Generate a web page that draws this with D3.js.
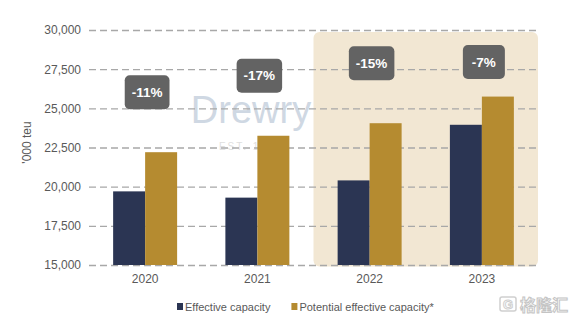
<!DOCTYPE html>
<html>
<head>
<meta charset="utf-8">
<script src="https://cdn.jsdelivr.net/npm/d3@7"></script>
<style>
  body { margin: 0; background: #fff; }
  svg { display: block; font-family: "Liberation Sans", Arial, sans-serif; }
</style>
</head>
<body>
<script>
 // data
 const years = ['2020', '2021', '2022', '2023'];
 const effective = [19700, 19300, 20400, 23950];
 const potential = [22200, 23250, 24050, 25750];
 const gapLabels = ['-11%', '-17%', '-15%', '-7%'];
 const highlightYears = ['2022', '2023'];
 const seriesNames = ['Effective capacity', 'Potential effective capacity*'];
 const yTicks = [15000, 17500, 20000, 22500, 25000, 27500, 30000];

 // constants
 const width = 573;
 const height = 327;
 const margin = { top: 30, bottom: 62, left: 89, right: 35 };
 const colors = ['#2b3553', '#b58b30'];
 const textColor = '#595959';

 const svg = d3.select('body').append('svg')
       .attr('width', width).attr('height', height);

 const rows = years.map((y, i) => ({ year: y, values: [effective[i], potential[i]], label: gapLabels[i] }));

 // scales
 const x0 = d3.scaleBand().domain(years)
       .range([margin.left, width - margin.right])
       .paddingInner(0.43).paddingOuter(0.215);
 const x1 = d3.scaleBand().domain([0, 1]).range([0, x0.bandwidth()]);
 const yScale = d3.scaleLinear().domain([15000, 30000])
       .range([height - margin.bottom, margin.top]);

 // highlighted forecast panel
 const half = x0.step() * x0.paddingInner() / 2;
 const hx0 = x0(highlightYears[0]) - half;
 const hx1 = x0(highlightYears[highlightYears.length - 1]) + x0.bandwidth() + half;
 svg.append('rect')
    .attr('x', hx0).attr('y', yScale(30000) + 2)
    .attr('width', hx1 - hx0).attr('height', yScale(15000) - yScale(30000) - 0.5)
    .attr('rx', 6).attr('fill', '#f2e7d3');

 // Drewry watermark
 svg.append('text').attr('x', 251).attr('y', 123)
    .attr('text-anchor', 'middle').attr('font-size', 38)
    .attr('fill', '#cfd8e3').text('Drewry');
 svg.append('text').attr('x', 251).attr('y', 150)
    .attr('text-anchor', 'middle').attr('font-size', 10)
    .attr('letter-spacing', 2).attr('fill', '#dedede').text('EST. 1870');

 // gridlines + y tick labels
 const yAxis = svg.append('g').attr('transform', `translate(${margin.left},0)`)
       .call(d3.axisLeft(yScale).tickValues(yTicks)
             .tickFormat(d3.format(','))
             .tickSize(-(width - margin.right - margin.left)).tickPadding(8));
 yAxis.select('.domain').remove();
 yAxis.selectAll('.tick line')
      .attr('stroke', '#a8a8a8').attr('stroke-width', 1.3).attr('stroke-dasharray', '7,4');
 yAxis.selectAll('.tick text')
      .attr('fill', textColor).attr('font-size', 12).attr('font-family', 'Liberation Sans, Arial');

 // axis title
 svg.append('text')
    .attr('transform', `translate(31, ${(yScale(20000) + yScale(25000)) / 2 - 5}) rotate(-90)`)
    .attr('text-anchor', 'middle').attr('font-size', 12).attr('fill', textColor)
    .text("'000 teu");

 // bars
 const groups = svg.append('g').selectAll('g').data(rows).enter().append('g')
       .attr('transform', (d) => `translate(${x0(d.year)},0)`);
 groups.selectAll('rect').data((d) => d.values).enter().append('rect')
       .attr('x', (d, i) => x1(i)).attr('width', x1.bandwidth())
       .attr('y', (d) => yScale(d))
       .attr('height', (d) => yScale(15000) - yScale(d))
       .attr('fill', (d, i) => colors[i]);

 // x labels
 const xAxis = svg.append('g').attr('transform', `translate(0, ${height - margin.bottom})`)
       .call(d3.axisBottom(x0).tickSize(0).tickPadding(9));
 xAxis.select('.domain').remove();
 xAxis.selectAll('text').attr('fill', textColor).attr('font-size', 12)
      .attr('font-family', 'Liberation Sans, Arial');

 // gap labels
 const boxTopMin = yScale(30000) + 15;
 groups.each(function(d) {
    const g = d3.select(this);
    const cx = x0.bandwidth() / 2 + 2;
    let bottom = yScale(d.values[1]) - 43;
    let top = Math.max(bottom - 34, boxTopMin);
    const rect = g.append('rect').attr('y', top).attr('height', 34)
          .attr('rx', 5).attr('fill', '#636363');
    const t = g.append('text').attr('x', cx).attr('y', top + 17)
          .attr('text-anchor', 'middle').attr('dominant-baseline', 'central')
          .attr('font-size', 13.5).attr('font-weight', 'bold').attr('fill', '#fff')
          .text(d.label);
    const w = Math.max(t.node().getComputedTextLength() + 14, 42);
    rect.attr('x', cx - w / 2).attr('width', w);
 });

 // legend
 const legend = svg.append('g').attr('transform', 'translate(177, 306)');
 let lx = 0;
 seriesNames.forEach((name, i) => {
    legend.append('rect').attr('x', lx).attr('y', -3).attr('width', 6).attr('height', 7)
          .attr('fill', colors[i]);
    const t = legend.append('text').attr('x', lx + 8).attr('y', 0.5)
          .attr('dominant-baseline', 'central').attr('font-size', 11)
          .attr('fill', textColor).text(name);
    lx += 8 + t.node().getComputedTextLength() + 21;
 });

 // source watermark
 const wm = svg.append('g').attr('transform', 'translate(500, 297)');
 wm.append('rect').attr('width', 16).attr('height', 14).attr('rx', 2)
   .attr('fill', 'none').attr('stroke', '#cfcfcf').attr('stroke-width', 1.5);
 wm.append('text').attr('x', 8).attr('y', 12).attr('text-anchor', 'middle')
   .attr('font-size', 13).attr('font-weight', 'bold').attr('fill', 'none')
   .attr('stroke', '#cfcfcf').attr('stroke-width', 1).text('G');
 wm.append('text').attr('x', 20).attr('y', 13.5)
   .attr('font-family', 'Noto Sans CJK SC').attr('font-size', 16).attr('font-weight', 'bold')
   .attr('fill', '#fff').attr('stroke', '#c4c4c4').attr('stroke-width', 1)
   .text('格隆汇');
</script>
</body>
</html>
